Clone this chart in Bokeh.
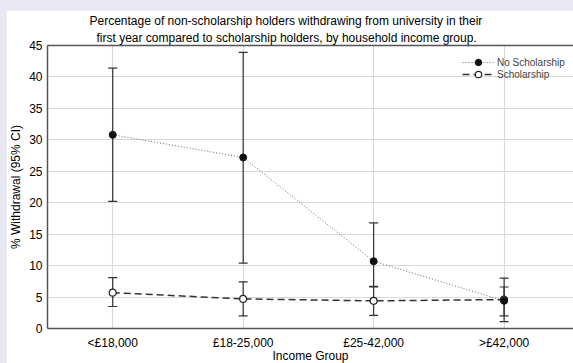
from bokeh.plotting import figure
from bokeh.models import (ColumnDataSource, Whisker, TeeHead, FixedTicker, Legend,
                          LegendItem, Title, Spacer, LinearAxis)
from bokeh.layouts import column, row
from bokeh.embed import file_html
from bokeh.resources import INLINE

# Withdrawal rates (%) with 95% confidence intervals, by household income group
categories = ["<£18,000", "£18-25,000", "£25-42,000", ">£42,000"]
no_scholarship = [30.8, 27.2, 10.7, 4.4]
no_scholarship_lower = [20.2, 10.4, 6.7, 1.1]
no_scholarship_upper = [41.4, 43.9, 16.8, 8.0]
scholarship = [5.7, 4.7, 4.4, 4.6]
scholarship_lower = [3.5, 2.0, 2.1, 2.0]
scholarship_upper = [8.1, 7.4, 6.6, 6.6]
y_ticks = [0, 5, 10, 15, 20, 25, 30, 35, 40, 45]

title_line1 = "Percentage of non-scholarship holders withdrawing from university in their"
title_line2 = "first year compared to scholarship holders, by household income group."

FONT = "Liberation Sans"
FRAME = "#555555"
BAR = "#333333"
X0, X1 = -0.5, 3.532

xs = list(range(len(categories)))
src_ns = ColumnDataSource(dict(x=xs, y=no_scholarship,
                               lower=no_scholarship_lower, upper=no_scholarship_upper))
src_s = ColumnDataSource(dict(x=xs, y=scholarship,
                              lower=scholarship_lower, upper=scholarship_upper))

p = figure(width=567, height=357, x_range=(X0, X1), y_range=(0, 45),
           title=None, output_backend="svg", toolbar_location=None,
           min_border_left=36, min_border_right=0, min_border_top=35,
           min_border_bottom=39)
p.outline_line_color = None
p.background_fill_color = "white"
p.border_fill_color = "white"

# grid
p.xgrid.ticker = FixedTicker(ticks=xs)
p.ygrid.ticker = FixedTicker(ticks=y_ticks)
for g in (p.xgrid, p.ygrid):
    g.grid_line_color = "#d9d9d9"
    g.grid_line_width = 1.2

# axes
p.xaxis.ticker = FixedTicker(ticks=xs)
p.xaxis.major_label_overrides = {i: c for i, c in zip(xs, categories)}
p.yaxis.ticker = FixedTicker(ticks=y_ticks)
p.xaxis.axis_label = "Income Group"
p.yaxis.axis_label = "% Withdrawal (95% CI)"
for ax in (p.xaxis, p.yaxis):
    ax.axis_line_color = FRAME
    ax.axis_line_width = 1.5
    ax.major_tick_line_color = None
    ax.minor_tick_line_color = None
    ax.major_tick_out = 0
    ax.major_tick_in = 0
    ax.major_label_text_font = FONT
    ax.major_label_text_font_size = "12px"
    ax.major_label_text_color = "black"
    ax.axis_label_text_font = FONT
    ax.axis_label_text_font_size = "12px"
    ax.axis_label_text_font_style = "normal"
    ax.axis_label_text_color = "black"
p.xaxis.major_label_standoff = 7
p.xaxis.axis_label_standoff = -4
p.xaxis.axis_label_text_line_height = 1.0
p.xaxis.major_label_text_line_height = 1.0
p.yaxis.major_label_standoff = 5
p.yaxis.axis_label_standoff = 3

# top edge of the frame
top = LinearAxis(ticker=FixedTicker(ticks=[]), axis_line_color=FRAME, axis_line_width=1.5,
                 major_tick_out=0, major_tick_in=0, minor_tick_out=0, minor_tick_in=0,
                 major_label_text_font_size="0px")
p.add_layout(top, "above")

# two-line title
for txt, off in ((title_line2, 49), (title_line1, 42)):
    p.add_layout(Title(text=txt, align="left", offset=off, standoff=1,
                       text_font=FONT, text_font_size="12px",
                       text_font_style="normal", text_color="black"), "above")

# error bars
for src in (src_ns, src_s):
    p.add_layout(Whisker(source=src, base="x", upper="upper", lower="lower",
                         line_color=BAR, line_width=1.2,
                         upper_head=TeeHead(size=9, line_color=BAR, line_width=1.2),
                         lower_head=TeeHead(size=9, line_color=BAR, line_width=1.2)))

# series
l_ns = p.line("x", "y", source=src_ns, line_color="#666666", line_width=1, line_dash="1 2")
l_s = p.line("x", "y", source=src_s, line_color="#333333", line_width=1.5, line_dash="7 4")
m_s = p.scatter("x", "y", source=src_s, marker="circle", size=7,
                fill_color="white", line_color="#222222", line_width=1.2)
m_ns = p.scatter("x", "y", source=src_ns, marker="circle", size=7,
                 fill_color="#111111", line_color="#111111", line_width=1)

# one legend per series so the rows can sit close together
for label, rends, loc in (("No Scholarship", [l_ns, m_ns], (415, 258)),
                          ("Scholarship", [l_s, m_s], (415, 246))):
    p.add_layout(Legend(items=[LegendItem(label=label, renderers=rends)],
                        location=loc, glyph_width=32, glyph_height=16, label_height=12,
                        spacing=0, padding=0, margin=0, label_standoff=3,
                        label_text_font=FONT, label_text_font_size="10px",
                        background_fill_alpha=0, border_line_alpha=0))

# the page is 573 x 363; the empty strip under the axis title is cut off
page = column(Spacer(height=10), row(Spacer(width=6), p),
              width=573, height=363,
              styles={"background-color": "#e8e8f4", "overflow": "hidden"})

open("out.html", "w").write(file_html(page, INLINE))
